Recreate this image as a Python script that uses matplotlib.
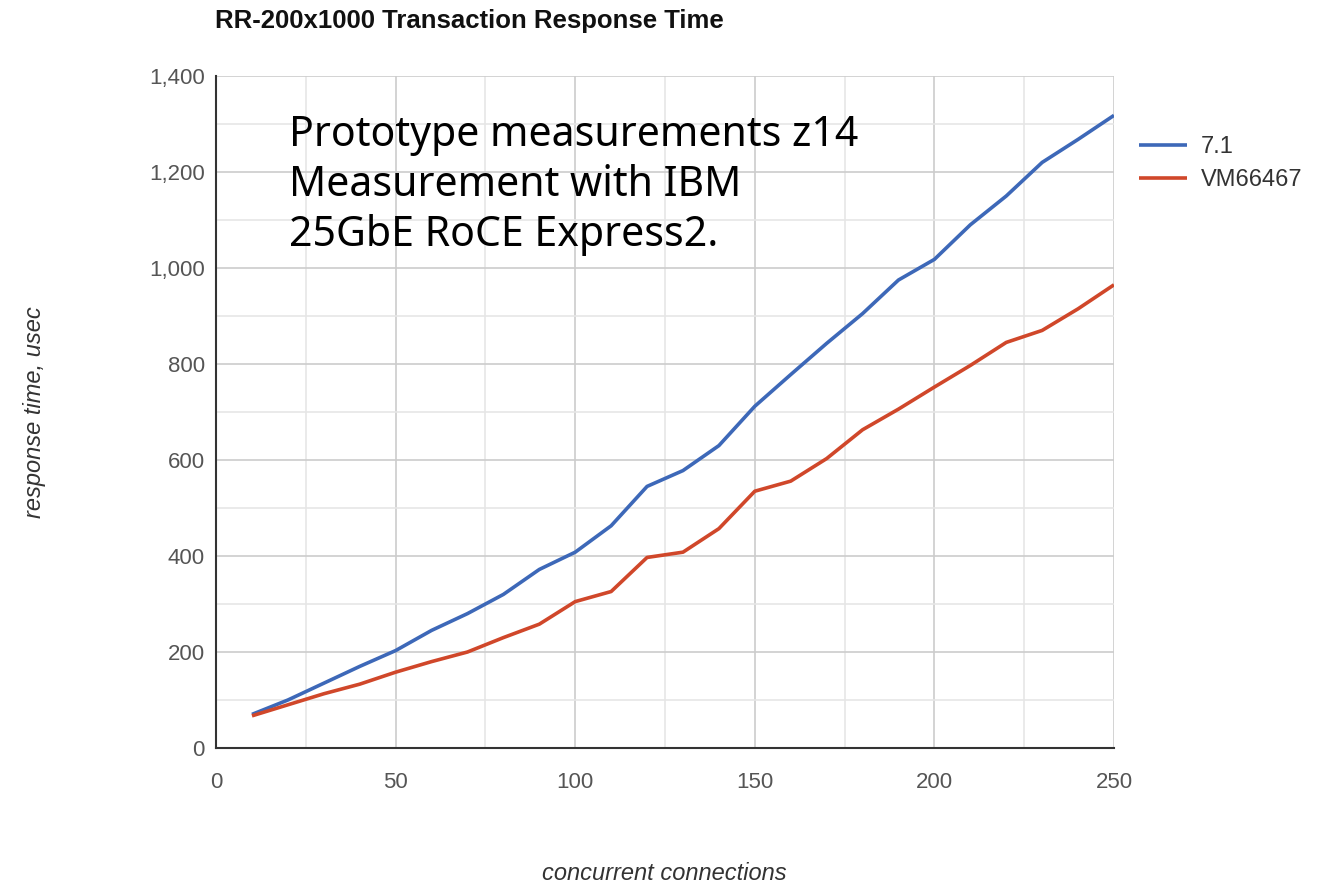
import numpy as np
import matplotlib
matplotlib.use('Agg')
import matplotlib.pyplot as plt

connections = [10, 20, 30, 40, 50, 60, 70, 80, 90, 100, 110, 120, 130,
               140, 150, 160, 170, 180, 190, 200, 210, 220, 230, 240, 250]
v71 = [70, 100, 135, 170, 203, 245, 280, 320, 372, 408, 463, 545, 578,
       630, 712, 778, 843, 905, 975, 1018, 1090, 1150, 1220, 1268, 1318]
vm66467 = [67, 90, 113, 133, 158, 180, 200, 230, 258, 305, 326, 397, 408,
           457, 535, 556, 603, 663, 706, 752, 797, 845, 870, 915, 965]
yticks = [0, 200, 400, 600, 800, 1000, 1200, 1400]
xticks = [0, 50, 100, 150, 200, 250]

plt.rcParams['font.family'] = ['Liberation Sans', 'DejaVu Sans']

fig = plt.figure(figsize=(13.37, 8.85), dpi=100)
ax = fig.add_axes([0.1616, 0.1548, 0.6716, 0.7593])

ax.plot(connections, v71, color='#3d68b8', lw=2.6, label='7.1', solid_capstyle='butt')
ax.plot(connections, vm66467, color='#d0472a', lw=2.6, label='VM66467', solid_capstyle='butt')

ax.set_xlim(0, 250)
ax.set_ylim(0, 1400)
ax.set_xticks(xticks)
ax.set_yticks(yticks)
ax.set_yticklabels(['{:,}'.format(t) for t in yticks])
ax.set_xticks(np.arange(25, 250, 50), minor=True)
ax.set_yticks(np.arange(100, 1400, 200), minor=True)
ax.grid(True, which='major', color='#cccccc', lw=1.2)
ax.grid(True, which='minor', color='#e6e6e6', lw=1.2)
ax.set_axisbelow(True)
ax.tick_params(which='both', length=0, labelsize=16, colors='#555555', pad=8)
ax.tick_params(axis='x', pad=17)

for s in ['top', 'right']:
    ax.spines[s].set_visible(False)
ax.spines['left'].set_color('#333333')
ax.spines['bottom'].set_color('#333333')
ax.spines['left'].set_linewidth(1.5)
ax.spines['bottom'].set_linewidth(1.5)

fig.text(0.497, 1 - 874 / 885, 'concurrent connections', fontsize=17, style='italic',
         color='#333333', ha='center', va='center')
fig.text(35 / 1337, 1 - 412 / 885, 'response time, usec', fontsize=17, style='italic',
         color='#333333', ha='center', va='center', rotation=90)

fig.text(0.161, 1 - 21 / 885, 'RR-200x1000 Transaction Response Time', fontsize=18.5,
         fontweight='bold', color='#111111', va='center', ha='left')

ax.text(0.081, 0.943, 'Prototype measurements z14\nMeasurement with IBM\n25GbE RoCE Express2.',
        transform=ax.transAxes, fontsize=29.5, family=['Noto Sans', 'DejaVu Sans'],
        va='top', ha='left', color='#000000', linespacing=1.25)

fig.legend(handles=ax.get_lines(), loc='upper left', bbox_to_anchor=(1130 / 1337, 1 - 127 / 885),
           frameon=False, fontsize=17, handlelength=2.0, handletextpad=0.6, labelspacing=0.45,
           labelcolor='#333333', borderaxespad=0)

fig.savefig('out.png', dpi=100)
